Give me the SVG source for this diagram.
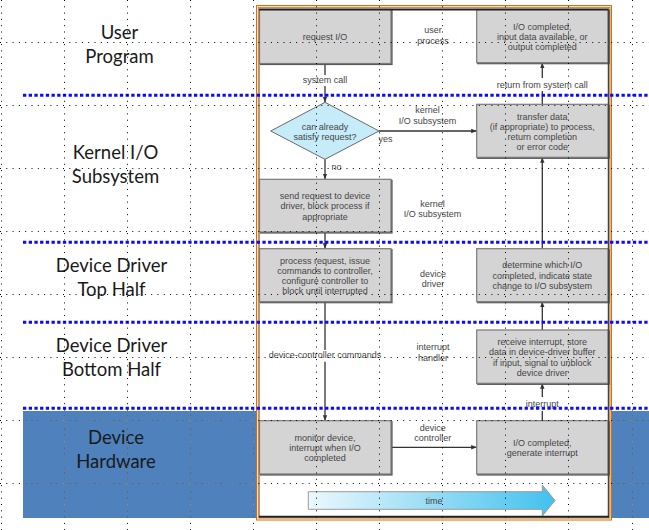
<svg xmlns="http://www.w3.org/2000/svg" width="649" height="530" viewBox="0 0 649 530">
<defs>
<style>
.lbl{font-family:Lato,"Liberation Sans",sans-serif;font-size:18.5px;fill:#1a1a1a;text-anchor:middle}
.t{font-family:"Liberation Sans",Arial,sans-serif;font-size:9px;fill:#454545;text-anchor:middle}
.box{fill:#d4d4d4;stroke:#7a7a7a;stroke-width:1.2;filter:url(#sh)}
.ln{stroke:#333;stroke-width:1.3;fill:none}
.arr{marker-end:url(#ah)}
.sep{stroke:#0a0aff;stroke-width:3;stroke-dasharray:3.3 2.4;fill:none}
.grid{stroke:#000;stroke-width:1;stroke-dasharray:1 5.3;fill:none}
.gridb{stroke:#b58a55;stroke-width:1;stroke-dasharray:1 5.3;fill:none}
</style>
<filter id="sh" x="-5%" y="-5%" width="115%" height="115%">
<feOffset in="SourceAlpha" dx="0.8" dy="0.8" result="o"/>
<feFlood flood-color="#555"/>
<feComposite in2="o" operator="in" result="s"/>
<feMerge><feMergeNode in="s"/><feMergeNode in="SourceGraphic"/></feMerge>
</filter>
<marker id="ah" viewBox="0 0 10 10" refX="10" refY="5" markerWidth="5.5" markerHeight="5.5" orient="auto" markerUnits="userSpaceOnUse">
<path d="M0 1L10 5L0 9z" fill="#333"/>
</marker>
<linearGradient id="tg" x1="0" y1="0" x2="1" y2="0">
<stop offset="0" stop-color="#ecf8fd"/>
<stop offset="1" stop-color="#42c1ee"/>
</linearGradient>
<clipPath id="bc">
<rect x="23" y="411" width="233" height="107"/>
<rect x="612" y="411" width="37" height="107"/>
</clipPath>
<path id="gridp" d="M1.5 0V530M64.5 0V530M127.5 0V530M190.5 0V530M253.5 0V530M316.5 0V530M379.5 0V530M442.5 0V530M505.5 0V530M568.5 0V530M632.5 0V530M0 42.5H649M0 105.5H649M0 168.5H649M0 231.5H649M0 294.5H649M0 357.5H649M0 420.5H649M0 483.5H649"/>
</defs>
<rect width="649" height="530" fill="#fff"/>
<rect id="hw-band" x="23" y="411" width="626" height="107" fill="#4f81bd"/>

<g id="frame">
<rect x="256.5" y="5.5" width="355" height="514.5" fill="#fff" stroke="#d2700e" stroke-width="1"/>
<rect x="258.3" y="7.3" width="351.7" height="510.7" fill="none" stroke="#d2700e" stroke-width="1"/>
<rect x="259.5" y="9.5" width="349" height="507.2" fill="#fff" stroke="#a0a0a0" stroke-width="1"/>
</g>

<g id="connectors">
<path class="ln" d="M325 63.5V75"/>
<path class="ln arr" d="M325 86V102.3"/>
<path class="ln arr" d="M379 131H476.7"/>
<path class="ln arr" d="M325 159.3V179.3"/>
<path class="ln arr" d="M325 232V248.7"/>
<path class="ln" d="M325 301.7V350"/>
<path class="ln arr" d="M325 361.7V420.7"/>
<path class="ln arr" d="M391 447.3H476.7"/>
<path class="ln" d="M542.3 420.7V411"/>
<path class="ln arr" d="M542.3 397V383.3"/>
<path class="ln arr" d="M542.3 330V301.7"/>
<path class="ln arr" d="M542.3 248.7V157.3"/>
<path class="ln" d="M542.3 104.3V91"/>
<path class="ln arr" d="M542.3 78V62.7"/>
</g>

<g id="request-io">
<rect class="box" x="259.5" y="9.5" width="131.5" height="54"/>
<text class="t" x="325" y="40">request I/O</text>
</g>
<g id="io-completed-user">
<rect class="box" x="476.7" y="9.5" width="131.5" height="53.2"/>
<text class="t" x="542.3" y="30">I/O completed,</text>
<text class="t" x="542.3" y="40">input data available, or</text>
<text class="t" x="542.3" y="50">output completed</text>
</g>
<g id="can-satisfy">
<polygon points="325,102.3 379,131 325,159.3 270.7,131" fill="#c6ecf9" stroke="#6a6a6a" stroke-width="1"/>
<text class="t" x="325" y="130">can already</text>
<text class="t" x="325" y="139.5">satisfy request?</text>
</g>
<g id="transfer-data">
<rect class="box" x="476.7" y="104.3" width="131.5" height="53"/>
<text class="t" x="542.3" y="120">transfer data</text>
<text class="t" x="542.3" y="130">(if appropriate) to process,</text>
<text class="t" x="542.3" y="140">return completion</text>
<text class="t" x="542.3" y="150">or error code</text>
</g>
<g id="send-request">
<rect class="box" x="259.5" y="179.3" width="131.5" height="52.7"/>
<text class="t" x="325" y="199">send request to device</text>
<text class="t" x="325" y="209.3">driver, block process if</text>
<text class="t" x="325" y="219.5">appropriate</text>
</g>
<g id="process-request">
<rect class="box" x="259.5" y="248.7" width="131.5" height="53"/>
<text class="t" x="325" y="264">process request, issue</text>
<text class="t" x="325" y="274">commands to controller,</text>
<text class="t" x="325" y="284">configure controller to</text>
<text class="t" x="325" y="294">block until interrupted</text>
</g>
<g id="determine-io">
<rect class="box" x="476.7" y="248.7" width="131.5" height="53"/>
<text class="t" x="542.3" y="268.3">determine which I/O</text>
<text class="t" x="542.3" y="279">completed, indicate state</text>
<text class="t" x="542.3" y="289">change to I/O subsystem</text>
</g>
<g id="receive-interrupt">
<rect class="box" x="476.7" y="330" width="131.5" height="53.3"/>
<text class="t" x="542.3" y="345">receive interrupt, store</text>
<text class="t" x="542.3" y="355">data in device-driver buffer</text>
<text class="t" x="542.3" y="365.5">if input, signal to unblock</text>
<text class="t" x="542.3" y="376">device driver</text>
</g>
<g id="monitor-device">
<rect class="box" x="259.5" y="420.7" width="131.5" height="53.3"/>
<text class="t" x="325" y="440.5">monitor device,</text>
<text class="t" x="325" y="451">interrupt when I/O</text>
<text class="t" x="325" y="461.3">completed</text>
</g>
<g id="io-completed-hw">
<rect class="box" x="476.7" y="420.7" width="131.5" height="53.3"/>
<text class="t" x="542.3" y="445.5">I/O completed,</text>
<text class="t" x="542.3" y="455.5">generate interrupt</text>
</g>
<g id="time">
<polygon points="308.3,491.7 542.3,491.7 542.3,485 555,500.5 542.3,516 542.3,509.3 308.3,509.3" fill="url(#tg)" stroke="#9a9a9a" stroke-width="1"/>
<text class="t" x="434" y="504">time</text>
</g>

<g id="frame-edges">
<path d="M259 9.5H609" stroke="#222" stroke-width="2"/>
<path d="M608.5 9V517" stroke="#444" stroke-width="1.5"/>
<path d="M259 516.7H609" stroke="#222" stroke-width="2"/>
</g>

<g id="figure-labels">
<text class="t" x="325" y="83">system call</text>
<text class="t" x="542.3" y="88">return from system call</text>
<text class="t" x="433" y="33">user</text>
<text class="t" x="433" y="44">process</text>
<text class="t" x="427.5" y="113">kernel</text>
<text class="t" x="427.5" y="124">I/O subsystem</text>
<text class="t" x="378.5" y="141.5" style="text-anchor:start">yes</text>
<text class="t" x="331.5" y="170" style="text-anchor:start">no</text>
<text class="t" x="432.5" y="206.5">kernel</text>
<text class="t" x="432.5" y="216.5">I/O subsystem</text>
<text class="t" x="433" y="276.5">device</text>
<text class="t" x="433" y="286.5">driver</text>
<text class="t" x="325" y="358.3">device-controller commands</text>
<text class="t" x="433" y="350">interrupt</text>
<text class="t" x="433" y="360.5">handler</text>
<text class="t" x="542.3" y="406.5">interrupt</text>
<text class="t" x="432.7" y="430.5">device</text>
<text class="t" x="432.7" y="440.5">controller</text>
</g>

<g id="layer-labels">
<text class="lbl" x="119.5" y="38.5">User</text>
<text class="lbl" x="119.5" y="62.5">Program</text>
<text class="lbl" x="115.5" y="158.5">Kernel I/O</text>
<text class="lbl" x="115.5" y="182.5">Subsystem</text>
<text class="lbl" x="111.5" y="271.5">Device Driver</text>
<text class="lbl" x="111.5" y="295.5">Top Half</text>
<text class="lbl" x="111.5" y="351.5">Device Driver</text>
<text class="lbl" x="111.5" y="375.5">Bottom Half</text>
<text class="lbl" x="116" y="444">Device</text>
<text class="lbl" x="116" y="468">Hardware</text>
</g>

<g id="separators">
<path class="sep" d="M23 95.3H649M23 242.3H649M23 322.3H649M23 408.3H649"/>
</g>

<g id="grid">
<use href="#gridp" class="grid"/>
<use href="#gridp" class="gridb" clip-path="url(#bc)"/>
</g>
</svg>
